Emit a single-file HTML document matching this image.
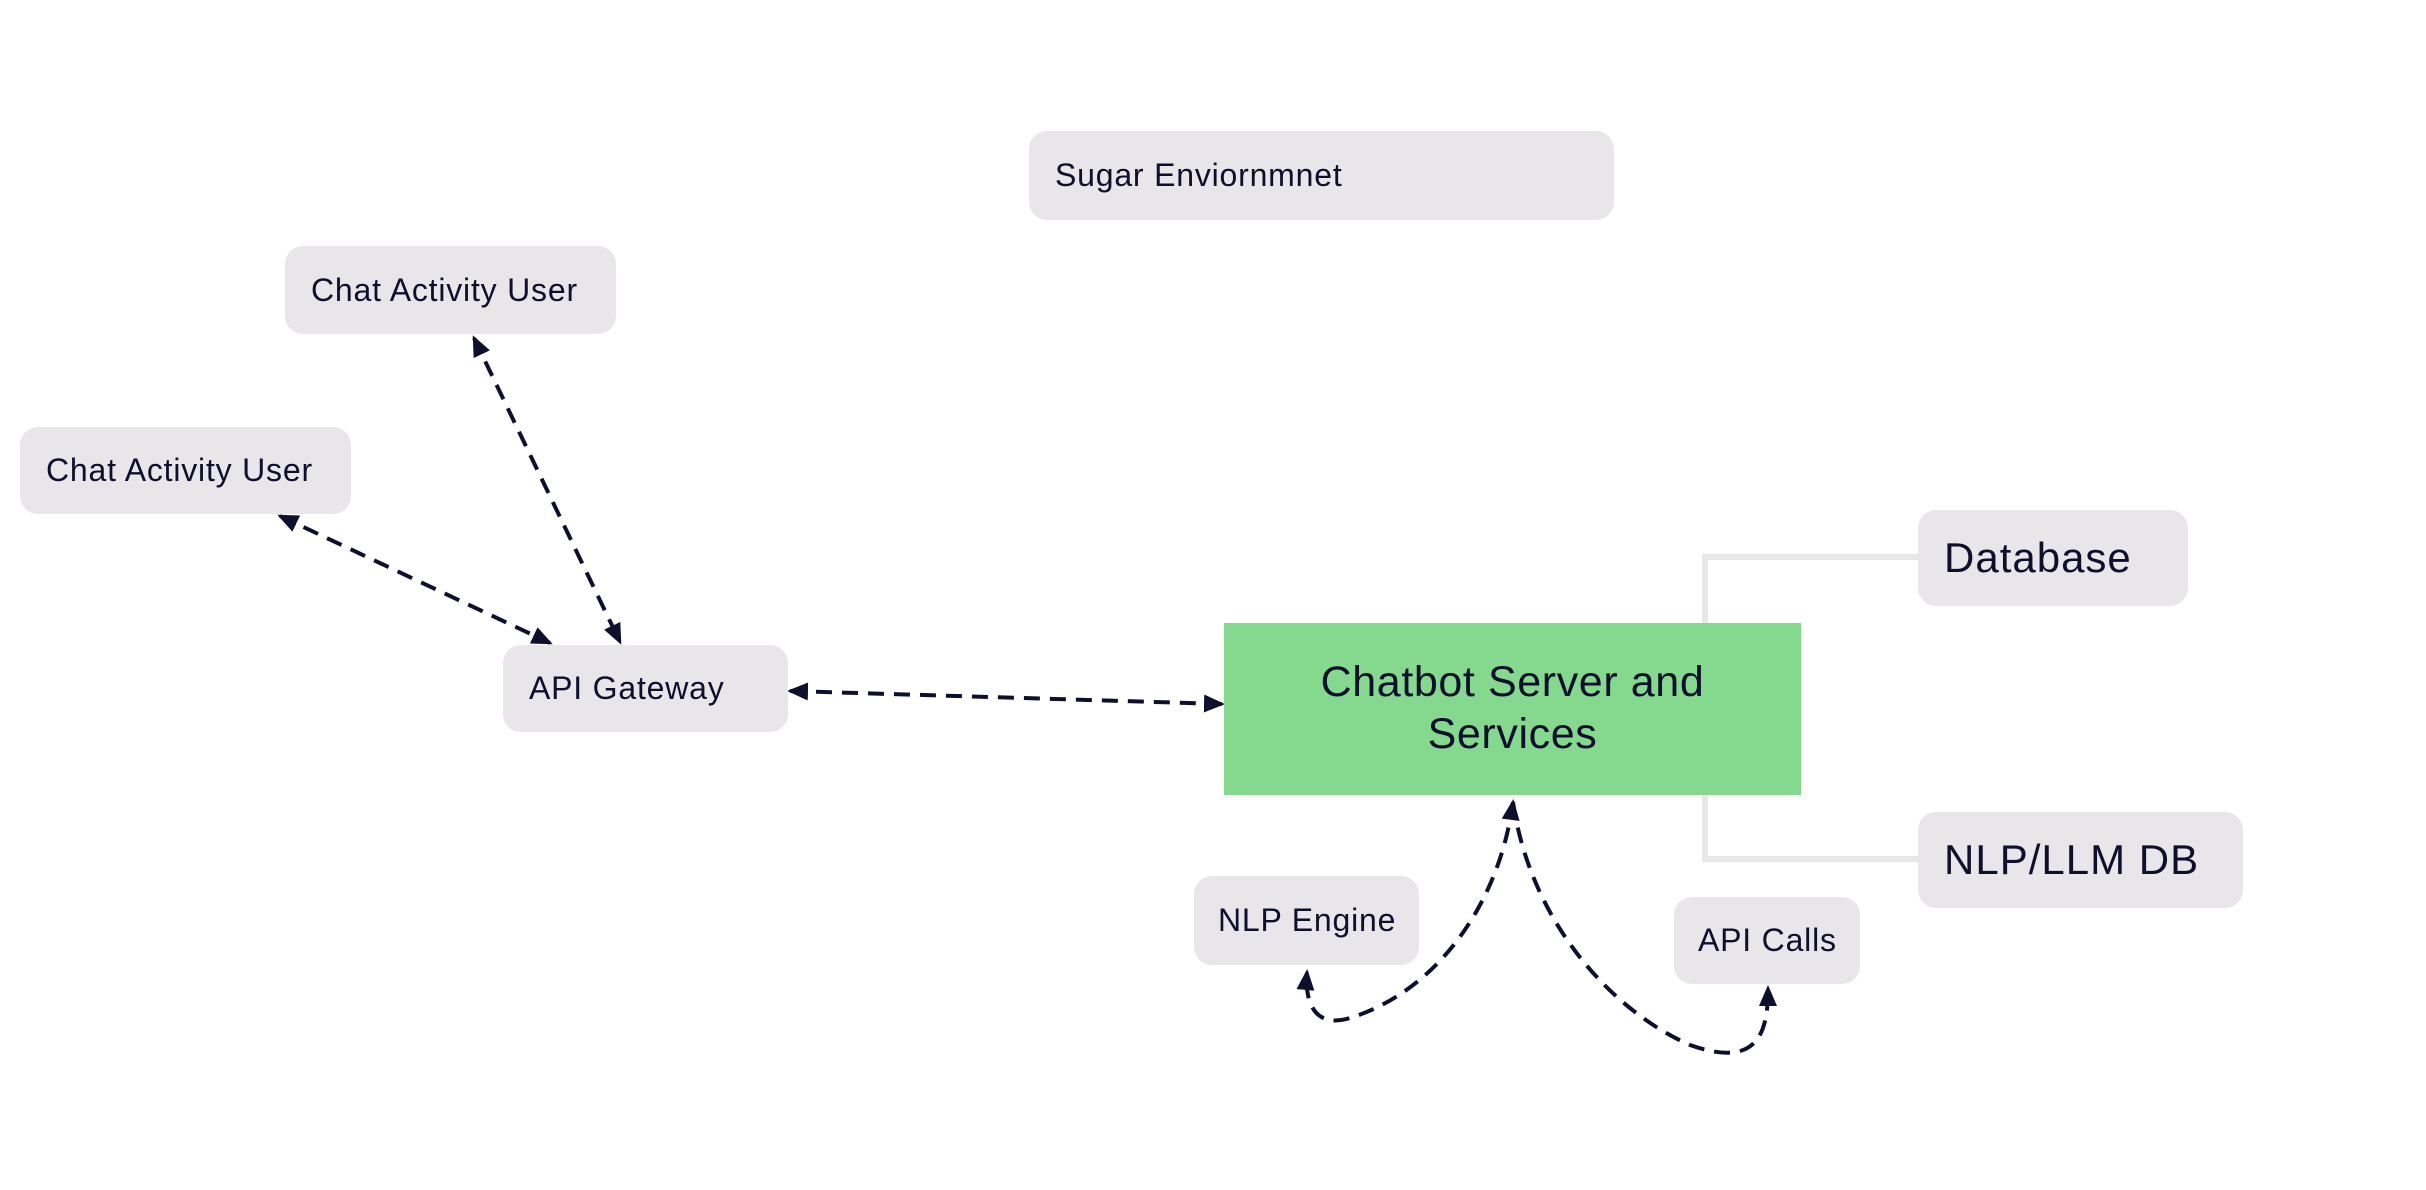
<!DOCTYPE html>
<html><head><meta charset="utf-8"><style>
body{margin:0;width:2426px;height:1190px;background:#fff;position:relative;overflow:hidden;font-family:"Liberation Sans",sans-serif;color:#0e0f2c}
.b{position:absolute;background:#e8e6e9;border-radius:18px;display:flex;align-items:center;box-sizing:border-box;padding-left:26px;font-size:32px;letter-spacing:0.8px;white-space:nowrap}
</style></head><body>
<svg width="2426" height="1190" style="position:absolute;left:0;top:0">
<defs>
<marker id="m" markerWidth="24" markerHeight="24" refX="18" refY="12" orient="auto-start-reverse" markerUnits="userSpaceOnUse"><path d="M0,3 L21,12 L0,21 z" fill="#0e0f2c"/></marker></defs>
<g fill="none" stroke="#e8e6e9" stroke-width="6">
<polyline points="1918,557 1705,557 1705,623"/>
<polyline points="1705,795 1705,859 1918,859"/>
</g>
<g fill="none" stroke="#0e0f2c" stroke-width="4" stroke-dasharray="16,10" marker-start="url(#m)" marker-end="url(#m)">
<line x1="474" y1="338" x2="620" y2="642"/>
<line x1="280" y1="516" x2="550" y2="643"/>
<line x1="790" y1="691" x2="1222" y2="704"/>
</g>
<g fill="none" stroke="#0e0f2c" stroke-width="4" stroke-dasharray="16,10">
<path d="M1513,802 C1500,900 1440,990 1350,1018 C1310,1030 1305,995 1307,972" marker-start="url(#m)" marker-end="url(#m)"/>
<path d="M1513,802 C1530,920 1610,1010 1690,1045 C1760,1070 1768,1030 1768,988" marker-end="url(#m)"/>
</g>
</svg>
<div class="b" style="left:1029px;top:131px;width:585px;height:89px">Sugar Enviornmnet</div>
<div class="b" style="left:285px;top:246px;width:331px;height:88px">Chat Activity User</div>
<div class="b" style="left:20px;top:427px;width:331px;height:87px">Chat Activity User</div>
<div class="b" style="left:503px;top:645px;width:285px;height:87px">API Gateway</div>
<div style="position:absolute;left:1224px;top:623px;width:577px;height:172px;background:#84d98f;display:flex;align-items:center;justify-content:center;text-align:center;font-size:43px;letter-spacing:0.6px;line-height:1.2">Chatbot Server and<br>Services</div>
<div class="b" style="left:1918px;top:510px;width:270px;height:96px;font-size:42px;letter-spacing:1px">Database</div>
<div class="b" style="left:1918px;top:812px;width:325px;height:96px;font-size:42px;letter-spacing:1px">NLP/LLM DB</div>
<div class="b" style="left:1194px;top:876px;width:225px;height:89px;padding-left:24px">NLP Engine</div>
<div class="b" style="left:1674px;top:897px;width:186px;height:87px;padding-left:24px">API Calls</div>
</body></html>
